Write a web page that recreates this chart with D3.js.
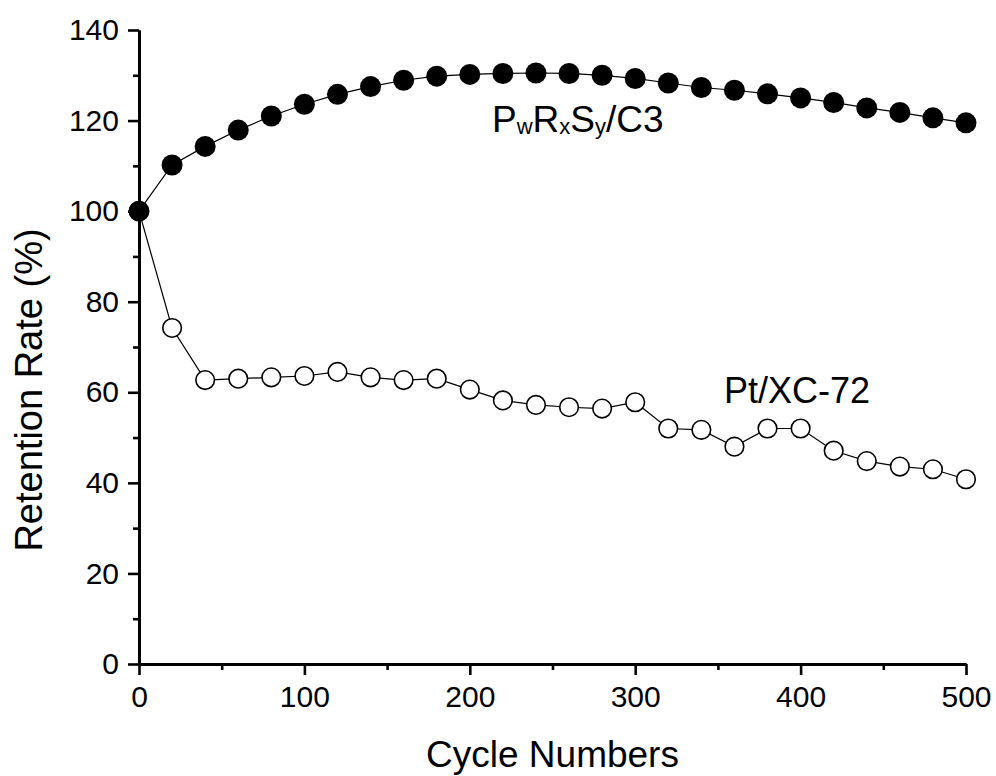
<!DOCTYPE html>
<html>
<head>
    <script src="https://cdn.jsdelivr.net/npm/d3@7/dist/d3.min.js"></script>
    <style>
        body { margin: 0; background: #fff; }
        text { font-family: "Liberation Sans", Arial, sans-serif; fill: #000; }
    </style>
</head>

<body>
<div id="chart"></div>

<script>

    var cycles = [0, 20, 40, 60, 80, 100, 120, 140, 160, 180, 200, 220, 240, 260,
                  280, 300, 320, 340, 360, 380, 400, 420, 440, 460, 480, 500];

    // filled circles
    var pwrxsy = [100, 110.2, 114.3, 117.9, 121.0, 123.6, 125.8, 127.5, 128.9, 129.8, 130.2, 130.4, 130.5, 130.4,
                  130.0, 129.3, 128.3, 127.3, 126.7, 125.9, 125.0, 124.0, 122.8, 121.8, 120.6, 119.5];

    // open circles
    var ptxc = [100, 74.2, 62.7, 63.0, 63.3, 63.6, 64.5, 63.3, 62.7, 63.0, 60.6, 58.2, 57.2, 56.7,
                56.4, 57.8, 52.0, 51.7, 48.0, 52.0, 52.0, 47.1, 44.8, 43.6, 43.0, 40.8];

    var xTicks = [0, 100, 200, 300, 400, 500];
    var yTicks = [0, 20, 40, 60, 80, 100, 120, 140];

    var width = 996;
    var height = 776;
    var padding = { top: 30, right: 30, bottom: 112, left: 139 };
    var w = width - padding.left - padding.right;
    var h = height - padding.top - padding.bottom;

    var xScale = d3.scaleLinear()
        .domain([0, 500])
        .range([0, w]);

    var yScale = d3.scaleLinear()
        .domain([0, 140])
        .range([h, 0]);

    var svg = d3.select('#chart').append('svg')
        .attr('width', width)
        .attr('height', height);

    var g = svg.append('g')
        .attr('transform', 'translate(' + padding.left + ', ' + padding.top + ')');

    // minor ticks
    g.append('g')
        .attr('class', 'axis')
        .call(d3.axisLeft(yScale).tickValues(d3.range(10, 140, 20)).tickSize(6).tickFormat('').tickSizeOuter(0));

    g.append('g')
        .attr('class', 'axis')
        .attr('transform', 'translate(0,' + h + ')')
        .call(d3.axisBottom(xScale).tickValues(d3.range(50, 500, 100)).tickSize(6).tickFormat('').tickSizeOuter(0));

    // major ticks
    g.append('g')
        .attr('class', 'axis')
        .call(d3.axisLeft(yScale).tickValues(yTicks).tickSize(11).tickPadding(9).tickSizeOuter(0));

    g.append('g')
        .attr('class', 'axis')
        .attr('transform', 'translate(0,' + h + ')')
        .call(d3.axisBottom(xScale).tickValues(xTicks).tickSize(11).tickPadding(11).tickSizeOuter(0));

    g.selectAll('.axis path').attr('stroke', '#000').attr('stroke-width', 3);
    g.selectAll('.axis line').attr('stroke', '#000').attr('stroke-width', 2.6);
    g.selectAll('.axis text').style('font-size', '30px');

    var seriesList = [
        { values: ptxc, filled: false },
        { values: pwrxsy, filled: true }
    ];

    var line = d3.line()
        .x(function(d, i) { return xScale(cycles[i]); })
        .y(function(d) { return yScale(d); });

    seriesList.forEach(function(s) {
        g.append('path')
            .datum(s.values)
            .attr('fill', 'none')
            .attr('stroke', '#000')
            .attr('stroke-width', 1.2)
            .attr('d', line);

        g.selectAll(null)
            .data(s.values)
            .enter()
            .append('circle')
            .attr('cx', function(d, i) { return xScale(cycles[i]); })
            .attr('cy', function(d) { return yScale(d); })
            .attr('r', s.filled ? 10.5 : 9.3)
            .attr('fill', s.filled ? '#000' : '#fff')
            .attr('stroke', '#000')
            .attr('stroke-width', s.filled ? 0 : 1.6);
    });

    // series labels
    var lab1 = svg.append('text')
        .attr('x', 492)
        .attr('y', 132)
        .style('font-size', '37px');
    lab1.append('tspan').text('P');
    lab1.append('tspan').attr('dy', 2).style('font-size', '22px').text('w');
    lab1.append('tspan').attr('dy', -2).text('R');
    lab1.append('tspan').attr('dy', 2).style('font-size', '22px').text('x');
    lab1.append('tspan').attr('dy', -2).text('S');
    lab1.append('tspan').attr('dy', 2).style('font-size', '22px').text('y');
    lab1.append('tspan').attr('dy', -2).text('/C3');

    svg.append('text')
        .attr('x', 724)
        .attr('y', 403)
        .style('font-size', '36px')
        .text('Pt/XC-72');

    // axis titles
    svg.append('text')
        .attr('x', padding.left + w / 2)
        .attr('y', 767)
        .attr('text-anchor', 'middle')
        .style('font-size', '37px')
        .text('Cycle Numbers');

    svg.append('text')
        .attr('transform', 'translate(42,390) rotate(-90)')
        .attr('text-anchor', 'middle')
        .style('font-size', '38px')
        .text('Retention Rate (%)');

</script>
</body>
</html>
